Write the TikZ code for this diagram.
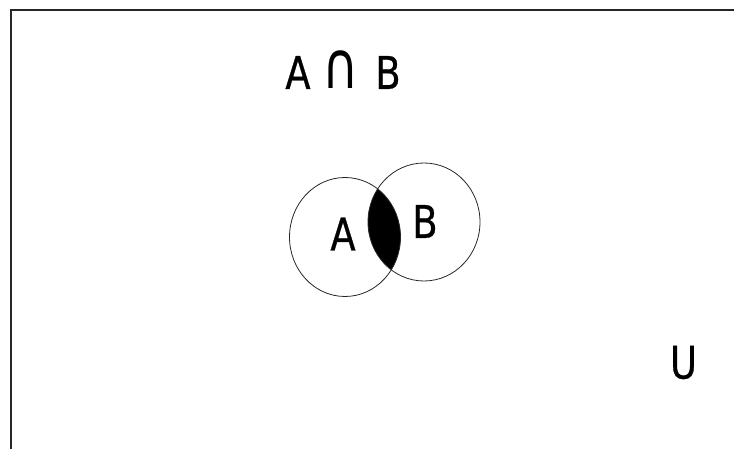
\documentclass[tikz,border=0pt]{standalone}
\usepackage{fontspec}
\usepackage{graphicx}
\newfontfamily\lblfont[FakeStretch=0.82,FakeBold=0.6]{DejaVu Sans}
\newfontfamily\capfont[FakeStretch=0.82]{DejaVu Sans}
\begin{document}
\begin{tikzpicture}[x=1pt,y=1pt,
  frameline/.style={line width=1.7pt, draw=black!85},
  setline/.style={line width=0.8pt, draw=black!85},
  lbl/.style={inner sep=0pt, font=\lblfont\fontsize{45}{45}\selectfont}]
\useasboundingbox (0,0) rectangle (734,449);
% frame
\coordinate (ftl) at (11,439);
\coordinate (ftr) at (734,439);
\coordinate (fbl) at (11,0);
\draw[frameline] (fbl) -- (ftl) -- (ftr);
% intersection
\begin{scope}
  \clip (345,212) ellipse [x radius=55.5, y radius=59.5];
  \fill[black] (424,227) ellipse [x radius=56, y radius=59];
\end{scope}
% sets
\draw[setline] (345,212) ellipse [x radius=55.5, y radius=59.5];
\draw[setline] (424,227) ellipse [x radius=56, y radius=59];
% labels
\node[lbl] (title) at (343,379) {A\hspace{0.27em}{\capfont\scalebox{1.35}[1.45]{∩}}\hspace{0.36em}B};
\node[lbl] (la) at (343,215) {A};
\node[lbl] (lb) at (425,227.5) {B};
\node[lbl] (lu) at (683.5,86.5) {U};
\end{tikzpicture}
\end{document}
